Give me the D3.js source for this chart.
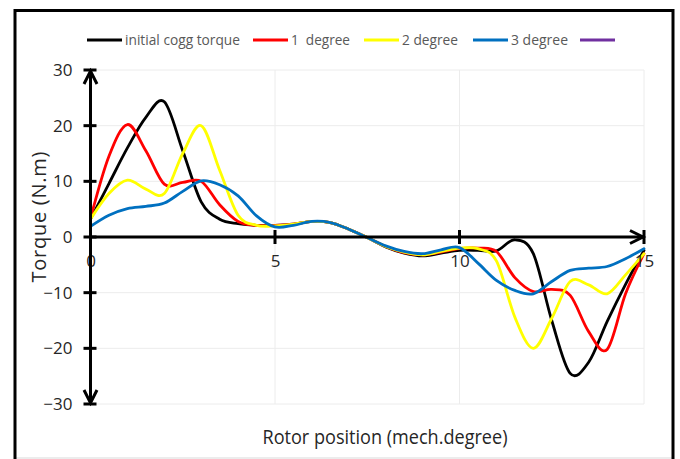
<!DOCTYPE html>
<html>
<head>
<meta charset="utf-8">
<script src="https://cdn.jsdelivr.net/npm/d3@7"></script>
<style>
  html, body { margin: 0; padding: 0; background: #fff; }
  svg { display: block; }
  text { font-family: "Liberation Sans Narrow", "Arial Narrow", "Open Sans", sans-serif; }
</style>
</head>
<body>
<svg id="chart" width="680" height="459"></svg>
<script>
// ---- data ----
const positions = [0,0.5,1,1.5,2,2.5,3,3.5,4,4.5,5,5.5,6,6.5,7,7.5,8,8.5,9,9.5,10,10.5,11,11.5,12,12.5,13,13.5,14,14.5,15];

const initialCogg = [3.2,9.6,16,21.5,24.3,15.5,6.3,3.2,2.4,2.1,2.1,2.3,2.8,2.6,1.4,-0.1,-1.8,-2.9,-3.4,-2.9,-2.4,-2.4,-2.5,-0.5,-3.0,-15,-24.5,-22.5,-15.2,-8.5,-2.4];
const degree1 = [3.3,14.5,20.2,15.5,9.5,9.8,10,5.8,2.8,2.1,2.1,2.3,2.8,2.6,1.4,-0.1,-1.7,-2.8,-3.2,-2.7,-2.1,-2.0,-2.6,-7.3,-9.8,-9.4,-10.5,-17,-20.2,-10.2,-3];
const degree2 = [3.2,7.8,10.2,8.6,7.8,15,20,12,3.9,2.1,2.0,2.3,2.8,2.6,1.4,-0.1,-1.7,-2.7,-3.2,-2.6,-2.0,-2.1,-4.3,-14.4,-20,-14.6,-8,-8.6,-10.2,-6.8,-3];
const degree3 = [1.9,3.9,5.1,5.5,6.1,8.2,10.1,9.4,7.4,3.8,1.8,2.1,2.8,2.6,1.4,-0.1,-1.6,-2.6,-3.0,-2.3,-1.9,-4.7,-7.8,-9.6,-10.2,-8,-6,-5.6,-5.3,-3.9,-2.1];

const seriesNames = ["initial cogg torque", "1  degree", "2 degree", "3 degree", ""];
const seriesColors = ["#000000", "#FF0000", "#FFFF00", "#0070C0", "#7030A0"];
const seriesValues = [initialCogg, degree1, degree2, degree3];

const xTicks = [0, 5, 10, 15];
const yTicks = [-30, -20, -10, 0, 10, 20, 30];
const xTitle = "Rotor position (mech.degree)";
const yTitle = "Torque (N.m)";

// ---- layout ----
const svg = d3.select("#chart");
const x = d3.scaleLinear().domain([0, 15]).range([90.5, 644]);
const y = d3.scaleLinear().domain([-30, 30]).range([404, 70]);

// outer border
svg.append("line").attr("x1", 15).attr("x2", 673).attr("y1", 458).attr("y2", 458)
  .attr("stroke", "#d9d9d9").attr("stroke-width", 1);
svg.append("rect").attr("x", 15).attr("y", 10.5).attr("width", 658).attr("height", 460)
  .attr("fill", "none").attr("stroke", "#000").attr("stroke-width", 3);

// gridlines
const grid = svg.append("g").attr("stroke", "#ececec").attr("stroke-width", 1);
yTicks.filter(v => v !== 0).forEach(v => {
  grid.append("line").attr("x1", x(0)).attr("x2", x(15)).attr("y1", y(v)).attr("y2", y(v));
});
xTicks.filter(v => v !== 0).forEach(v => {
  grid.append("line").attr("x1", x(v)).attr("x2", x(v)).attr("y1", y(30)).attr("y2", y(-30));
});

// series lines
const line = d3.line().curve(d3.curveCardinal.tension(0));
seriesValues.forEach((vals, i) => {
  const pts = positions.map((p, j) => [x(p), y(vals[j])]);
  svg.append("path").attr("d", line(pts)).attr("fill", "none")
    .attr("stroke", seriesColors[i]).attr("stroke-width", 2.8)
    .attr("stroke-linejoin", "round").attr("stroke-linecap", "round");
});

// axes (D3 axes, custom styled)
const yAxis = d3.axisLeft(y).tickValues(yTicks).tickSize(0).tickFormat(d3.format("d")).tickPadding(18);
const yG = svg.append("g").attr("transform", `translate(${x(0)},0)`).call(yAxis);
yG.select(".domain").remove();
yG.selectAll("text").attr("font-size", 17).attr("fill", "#262626");

const xAxis = d3.axisBottom(x).tickValues(xTicks).tickSize(0).tickFormat(d3.format("d")).tickPadding(18);
const xG = svg.append("g").attr("transform", `translate(0,${y(0)})`).call(xAxis);
xG.select(".domain").remove();
xG.selectAll("text").attr("font-size", 17).attr("fill", "#262626");

const ax = svg.append("g").attr("stroke", "#000").attr("stroke-width", 3).attr("fill", "none")
  .attr("stroke-linecap", "butt");
ax.append("line").attr("x1", x(0)).attr("x2", x(0)).attr("y1", y(30)).attr("y2", y(-30));
ax.append("line").attr("x1", x(0)).attr("x2", x(15)).attr("y1", y(0)).attr("y2", y(0));
yTicks.forEach(v => {
  ax.append("line").attr("x1", x(0) - 7).attr("x2", x(0) + 6).attr("y1", y(v)).attr("y2", y(v));
});
xTicks.filter(v => v !== 0).forEach(v => {
  ax.append("line").attr("x1", x(v)).attr("x2", x(v)).attr("y1", y(0) - 7).attr("y2", y(0) + 7);
});
ax.append("path").attr("d", `M${x(0)-6.5},${y(30)+14} L${x(0)},${y(30)+1} L${x(0)+6.5},${y(30)+14}`);
ax.append("path").attr("d", `M${x(0)-6.5},${y(-30)-14} L${x(0)},${y(-30)-1} L${x(0)+6.5},${y(-30)-14}`);
ax.append("path").attr("d", `M${x(15)-14},${y(0)-6.5} L${x(15)-1},${y(0)} L${x(15)-14},${y(0)+6.5}`);

// axis titles
svg.append("text").attr("x", 385).attr("y", 444).attr("text-anchor", "middle")
  .attr("font-size", 20).attr("fill", "#262626")
  .attr("textLength", 245).attr("lengthAdjust", "spacingAndGlyphs").text(xTitle);
svg.append("text").attr("transform", "translate(46,217) rotate(-90)").attr("text-anchor", "middle")
  .attr("font-size", 20).attr("fill", "#262626")
  .attr("textLength", 131).attr("lengthAdjust", "spacing").text(yTitle);

// legend
const legend = svg.append("g");
const legendLineX = [87, 253, 364, 473, 580];
const legendTextW = [115, 59, 56, 57, 0];
seriesNames.forEach((name, i) => {
  const lx = legendLineX[i];
  legend.append("line").attr("x1", lx).attr("x2", lx + 35).attr("y1", 40).attr("y2", 40)
    .attr("stroke", seriesColors[i]).attr("stroke-width", 2.8);
  if (name) {
    legend.append("text").attr("x", lx + 38).attr("y", 45).attr("font-size", 15)
      .attr("fill", "#595959").attr("textLength", legendTextW[i])
      .attr("lengthAdjust", "spacingAndGlyphs").attr("xml:space", "preserve").text(name);
  }
});
</script>
</body>
</html>
